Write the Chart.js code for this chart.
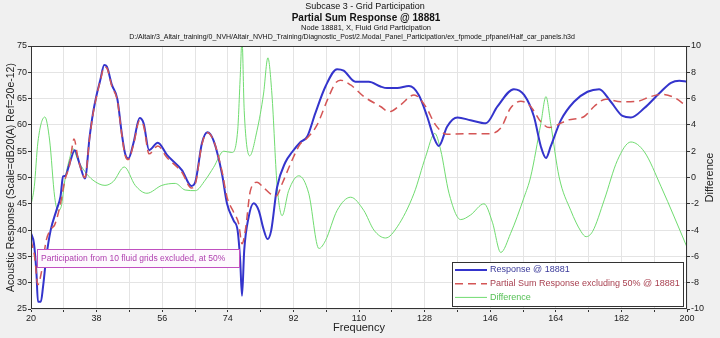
<!DOCTYPE html>
<html>
<head>
<meta charset="utf-8">
<script src="https://cdn.jsdelivr.net/npm/chart.js@4.4.1/dist/chart.umd.min.js"></script>
<style>
  html, body { margin: 0; padding: 0; background: #f0f0f0; }
  canvas { display: block; }
</style>
</head>
<body>
<canvas id="chart" width="720" height="338"></canvas>
<script>
// values (frequency in Hz)
const respFreq = [20, 20.8, 21.5, 21.9, 22.7, 23.3, 24.2, 25.4, 27.0, 28.1, 28.8, 29.4, 30.6, 32.0, 33.4, 34.8, 36.1, 37.0, 38.0, 39.0,
  40.1, 40.8, 42.2, 43.7, 44.9, 45.8, 46.7, 48.1, 49.8, 50.9, 52.4, 54.8, 57.3, 61.4, 64.0, 65.1, 66.9, 68.4, 70.1, 72.4,
  73.8, 75.6, 76.7, 77.4, 77.9, 78.5, 79.7, 81.1, 82.5, 83.8, 84.9, 85.9, 87.5, 89.8, 91.6, 93.9, 95.8, 98.0, 100.8, 104.0,
  105.8, 109.0, 112.7, 115.9, 117.7, 120.5, 123.7, 126.4, 128.7, 130.6, 131.9, 134.2, 137.0, 140.6, 144.8, 148.0, 152.5, 155.3, 158.0, 159.9,
  161.3, 162.6, 165.4, 169.0, 172.7, 175.9, 179.1, 182.3, 184.6, 188.3, 192.4, 195.6, 197.9, 200];
const respDb = [39.4, 37.5, 31.8, 26.4, 26.4, 29.2, 34.9, 40.0, 43.8, 46.4, 50.2, 50.3, 52.7, 55.2, 52.4, 49.8, 57.8, 62.2, 65.7, 68.5,
  71.4, 71.1, 67.6, 64.9, 58.4, 54.6, 53.6, 56.5, 61.3, 60.3, 55.2, 56.6, 54.3, 51.4, 48.4, 49.2, 56.5, 58.6, 57.0, 50.7,
  45.0, 41.8, 39.9, 34.2, 27.5, 36.1, 42.4, 45.1, 43.7, 40.2, 38.3, 39.9, 48.1, 52.9, 54.8, 56.7, 57.8, 62.2, 67.3, 70.6,
  70.3, 68.2, 68.2, 67.3, 67.0, 67.0, 67.4, 65.7, 61.6, 57.5, 56.0, 59.7, 61.4, 60.9, 60.3, 63.5, 66.8, 65.7, 61.6, 55.9,
  53.7, 55.9, 60.9, 64.4, 66.3, 66.8, 64.4, 61.7, 61.4, 63.2, 66.0, 68.0, 68.4, 68.2];

const partFreq = [20, 21.0, 21.9, 22.8, 24.2, 25.6, 26.5, 27.9, 29.3, 30.6, 31.8, 32.9, 34.8, 36.1, 37.0, 38.0, 39.0, 40.1, 40.8, 42.2,
  43.7, 44.9, 45.8, 46.7, 48.1, 49.8, 50.9, 52.4, 54.8, 57.3, 61.4, 64.0, 65.1, 66.9, 68.4, 70.1, 72.4, 73.8, 75.6, 77.0,
  77.9, 78.8, 80.2, 82.0, 83.8, 85.7, 87.3, 88.9, 91.2, 93.9, 95.8, 98.5, 101.3, 103.5, 104.9, 107.7, 111.3, 115.9, 118.2, 121.4,
  125.1, 128.3, 131.0, 134.2, 138.8, 145.2, 148.9, 151.6, 154.4, 157.1, 159.9, 162.2, 164.5, 167.2, 171.8, 174.5, 177.7, 181.9, 186.4, 190.1,
  193.3, 196.5, 200];
const partDb = [38.1, 34.9, 29.6, 31.8, 38.1, 40.3, 41.0, 44.4, 49.5, 52.4, 57.3, 53.7, 50.0, 57.6, 62.0, 65.5, 68.3, 71.0, 70.8, 67.3,
  64.6, 58.2, 54.3, 53.4, 56.2, 60.8, 59.8, 54.5, 56.0, 53.8, 51.0, 48.0, 48.8, 56.3, 58.5, 57.0, 51.2, 46.2, 43.4, 41.2,
  37.4, 39.9, 47.5, 49.1, 48.1, 46.9, 46.5, 48.8, 52.6, 56.4, 57.5, 60.0, 64.7, 67.9, 68.5, 67.6, 65.4, 63.5, 62.5, 63.8,
  65.7, 63.5, 60.0, 58.2, 58.3, 58.3, 59.4, 63.2, 64.5, 63.5, 60.6, 59.5, 60.0, 60.9, 61.6, 63.5, 64.9, 64.4, 64.5, 65.4,
  65.8, 65.2, 63.5];

const diffFreq = [20, 20.9, 21.9, 23.8, 25.1, 26.5, 27.4, 28.3, 29.3, 30.6, 31.5, 32.9, 34.8, 37.0, 40.3, 42.6, 45.6, 48.6, 51.8, 55.9,
  59.6, 62.3, 65.1, 67.8, 70.1, 72.9, 75.1, 76.7, 77.4, 77.9, 78.5, 80.0, 82.0, 83.8, 85.0, 86.1, 87.5, 88.9, 90.7, 93.5,
  96.2, 99.0, 100.8, 104.0, 107.7, 111.3, 114.1, 117.3, 120.5, 125.1, 128.3, 130.8, 132.4, 134.7, 137.9, 140.6, 144.3, 146.6, 148.9, 151.6,
  155.3, 157.1, 159.9, 161.3, 162.6, 164.9, 168.1, 170.9, 172.3, 174.1, 177.3, 180.9, 184.6, 188.3, 192.9, 196.5, 200];
const diffVal = [-2.1, -0.7, 2.7, 4.6, 2.85, -1.5, -2.5, -2.2, -0.2, 1.45, 2.2, 1.3, 0.45, -0.2, -0.6, -0.3, 0.8, -0.6, -1.2, -0.6,
  -0.45, -0.95, -1.0, -0.2, 0.77, 2.0, 1.9, 3.55, 7.6, 10.5, 5.1, 1.65, 3.55, 6.35, 9.1, 6.35, -0.5, -2.9, -1.0, 0.13,
  -1.2, -5.4, -4.8, -2.5, -1.5, -2.5, -4.0, -4.6, -3.75, -1.2, 1.6, 3.35, 2.1, -1.2, -3.2, -2.85, -2.0, -3.4, -5.7, -4.25,
  -1.5, 0.05, 4.1, 6.15, 4.1, 0.05, -2.5, -4.1, -4.5, -4.1, -1.7, 1.3, 2.7, 1.95, -0.7, -3.0, -5.3];

const titleLines = [
  'Subcase 3 - Grid Participation',
  'Partial Sum Response @ 18881',
  'Node 18881, X, Fluid Grid Participation',
  'D:/Altair/3_Altair_training/0_NVH/Altair_NVHD_Training/Diagnostic_Post/2.Modal_Panel_Participation/ex_fpmode_pfpanel/Half_car_panels.h3d'
];
const noteText = 'Participation from 10 fluid grids excluded, at 50%';

const FONT = "'Liberation Sans', Arial, sans-serif";
const toPoints = (xs, ys) => xs.map((x, i) => ({ x: x, y: ys[i] }));

// backgrounds, frame, titles, note and legend
const decor = {
  id: 'decor',
  beforeDraw(chart) {
    const { ctx, chartArea: a } = chart;
    ctx.save();
    ctx.fillStyle = '#f0f0f0';
    ctx.fillRect(0, 0, chart.width, chart.height);
    ctx.fillStyle = '#ffffff';
    ctx.fillRect(a.left, a.top, a.right - a.left, a.bottom - a.top);
    ctx.restore();
  },
  afterDatasetsDraw(chart) {
    const ctx = chart.ctx;
    ctx.save();
    // note box
    ctx.fillStyle = '#fdf9fd';
    ctx.fillRect(37, 249.5, 202, 18);
    ctx.strokeStyle = '#c050c0';
    ctx.lineWidth = 1;
    ctx.strokeRect(37.5, 249.5, 202, 18);
    ctx.fillStyle = '#b040b0';
    ctx.font = '8.5px ' + FONT;
    ctx.textBaseline = 'middle';
    ctx.textAlign = 'left';
    ctx.fillText(noteText, 41, 259);
    ctx.restore();
  },
  afterDraw(chart) {
    const { ctx, chartArea: a } = chart;
    ctx.save();
    // plot frame
    ctx.strokeStyle = '#333333';
    ctx.lineWidth = 1;
    ctx.strokeRect(a.left + 0.5, a.top + 0.5, a.right - a.left - 1, a.bottom - a.top - 1);

    // titles
    ctx.fillStyle = '#111111';
    ctx.textAlign = 'center';
    ctx.textBaseline = 'middle';
    ctx.font = '9px ' + FONT;
    ctx.fillText(titleLines[0], 365, 7);
    ctx.font = 'bold 10px ' + FONT;
    ctx.fillText(titleLines[1], 366, 18);
    ctx.font = '7.5px ' + FONT;
    ctx.fillText(titleLines[2], 366, 28);
    ctx.font = '7px ' + FONT;
    ctx.fillText(titleLines[3], 352, 37);

    // right axis title
    ctx.save();
    ctx.translate(710, (a.top + a.bottom) / 2);
    ctx.rotate(-Math.PI / 2);
    ctx.font = '11px ' + FONT;
    ctx.fillStyle = '#222222';
    ctx.fillText('Difference', 0, 0);
    ctx.restore();

    // legend box
    ctx.fillStyle = '#ffffff';
    ctx.fillRect(452, 262, 231, 44);
    ctx.strokeStyle = '#333333';
    ctx.strokeRect(452.5, 262.5, 231, 44);
    const textCols = ['#3a3a9a', '#a84050', '#55c055'];
    const order = [0, 1, 2];
    ctx.font = '9px ' + FONT;
    ctx.textAlign = 'left';
    order.forEach((di, row) => {
      const ds = chart.data.datasets[di];
      const y = 270 + row * 13.7;
      ctx.beginPath();
      ctx.setLineDash(ds.borderDash || []);
      ctx.strokeStyle = ds.borderColor;
      ctx.lineWidth = ds.borderWidth;
      ctx.moveTo(455, y);
      ctx.lineTo(487, y);
      ctx.stroke();
      ctx.setLineDash([]);
      ctx.fillStyle = textCols[row];
      ctx.fillText(ds.label, 490, y);
    });
    ctx.restore();
  }
};

new Chart(document.getElementById('chart'), {
  type: 'line',
  data: {
    datasets: [
      {
        label: 'Response @ 18881',
        data: toPoints(respFreq, respDb),
        yAxisID: 'y',
        borderColor: '#3434cc',
        borderWidth: 2,
        order: 1
      },
      {
        label: 'Partial Sum Response excluding 50% @ 18881',
        data: toPoints(partFreq, partDb),
        yAxisID: 'y',
        borderColor: '#d45555',
        borderWidth: 1.5,
        borderDash: [8, 5],
        order: 0
      },
      {
        label: 'Difference',
        data: toPoints(diffFreq, diffVal),
        yAxisID: 'y2',
        borderColor: '#70dc70',
        borderWidth: 1,
        order: 2
      }
    ]
  },
  options: {
    responsive: false,
    animation: false,
    devicePixelRatio: 1,
    parsing: true,
    cubicInterpolationMode: 'monotone',
    elements: { point: { radius: 0 }, line: { fill: false } },
    layout: { padding: { top: 46, left: 0, right: 0, bottom: 0 } },
    scales: {
      x: {
        type: 'linear',
        min: 20,
        max: 200,
        afterFit: s => { s.height = 29; },
        grid: { color: '#e4e4e4', tickLength: 3, tickColor: '#333' },
        border: { display: false },
        ticks: {
          stepSize: 9,
          autoSkip: false,
          maxRotation: 0,
          padding: 1,
          color: '#222',
          font: { family: FONT, size: 9 },
          callback: v => ((v - 20) % 18 === 0 ? v : '')
        },
        title: {
          display: true,
          text: 'Frequency',
          color: '#222',
          font: { family: FONT, size: 11 },
          padding: { top: 0, bottom: 3 }
        }
      },
      y: {
        position: 'left',
        min: 25,
        max: 75,
        afterFit: s => { s.width = 31; },
        grid: { color: '#e4e4e4', tickLength: 3, tickColor: '#333' },
        border: { display: false },
        ticks: {
          stepSize: 5,
          padding: 1,
          color: '#222',
          font: { family: FONT, size: 9 }
        },
        title: {
          display: true,
          text: 'Acoustic Response (Scale=dB20(A) Ref=20e-12)',
          color: '#222',
          font: { family: FONT, size: 10.5 },
          padding: { top: 5, bottom: 0 }
        }
      },
      y2: {
        position: 'right',
        min: -10,
        max: 10,
        afterFit: s => { s.width = 33; },
        grid: { drawOnChartArea: false, tickLength: 3, tickColor: '#333' },
        border: { display: false },
        ticks: {
          stepSize: 2,
          padding: 1,
          color: '#222',
          font: { family: FONT, size: 9 }
        }
      }
    },
    plugins: {
      legend: { display: false },
      title: { display: false },
      tooltip: { enabled: false }
    }
  },
  plugins: [decor]
});
</script>
</body>
</html>
